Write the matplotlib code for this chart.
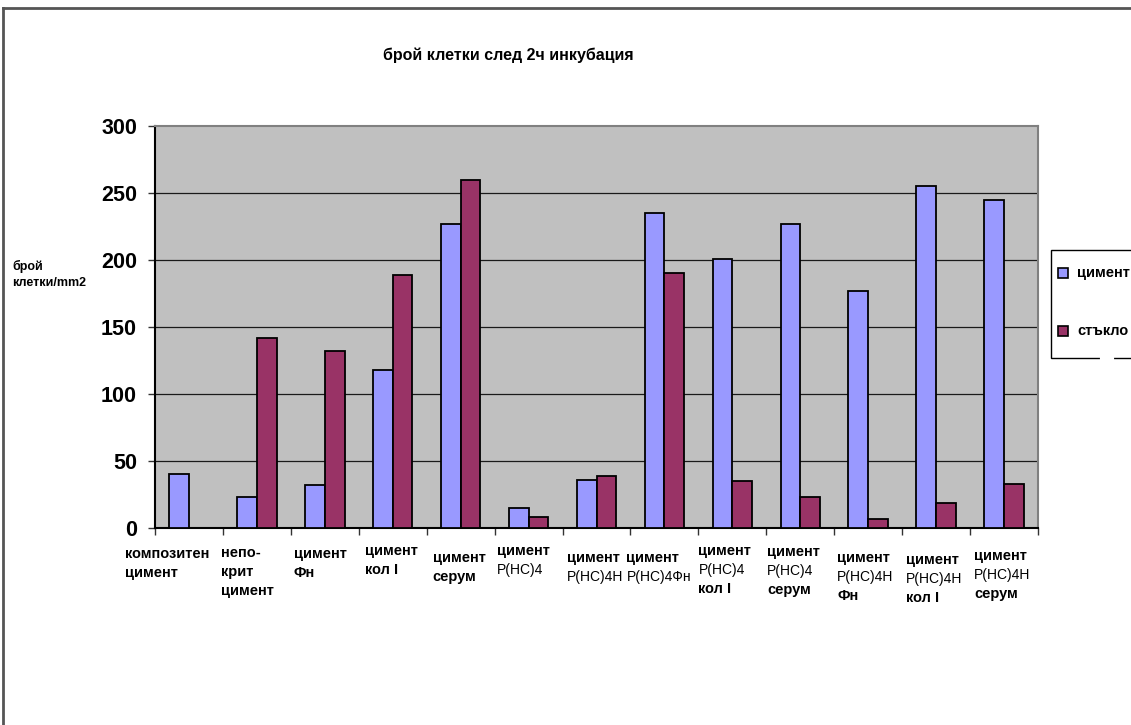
import matplotlib
matplotlib.use("Agg")
import matplotlib.pyplot as plt
import matplotlib.transforms as mtransforms
from matplotlib.patches import Rectangle
from matplotlib.lines import Line2D
import numpy as np

plt.rcParams['font.family'] = ['Liberation Sans', 'DejaVu Sans']

categories = [
    "композитен\nцимент",
    "непо-\nкрит\nцимент",
    "цимент\nФн",
    "цимент\nкол I",
    "цимент\nсерум",
    "цимент\nP(HC)4",
    "цимент\nP(HC)4H",
    "цимент\nP(HC)4Фн",
    "цимент\nP(HC)4\nкол I",
    "цимент\nP(HC)4\nсерум",
    "цимент\nP(HC)4H\nФн",
    "цимент\nP(HC)4H\nкол I",
    "цимент\nP(HC)4H\nсерум",
]
cement = [40, 23, 32, 118, 227, 15, 36, 235, 201, 227, 177, 255, 245]
glass = [0, 142, 132, 189, 260, 8, 39, 190, 35, 23, 7, 19, 33]
series_names = ["цимент", "стъкло"]
series_colors = ["#9999FF", "#993366"]
yticks = [0, 50, 100, 150, 200, 250, 300]

title = "брой клетки след 2ч инкубация"
ylabel = "брой\nклетки/mm2"

# label placement tweaks (pixels: horizontal from left tick, vertical below axis)
label_dx = [-30, -2, 3, 6, 6, 2, 4, -4, 0, 1, 3, 4, 4]
label_dy = [19, 18, 19, 16, 23, 16, 23, 23, 16, 17, 23, 25, 21]
line_pitch = 19

W, H = 1131, 725
fig = plt.figure(figsize=(W / 100, H / 100), dpi=100)
fig.patch.set_facecolor("white")

ax = fig.add_axes([155 / W, 1 - 528 / H, (1038 - 155) / W, (528 - 126) / H])
ax.set_facecolor("#C0C0C0")

x = np.arange(len(categories))
bw = 0.29
ax.bar(x - bw / 2, cement, width=bw, color=series_colors[0], edgecolor="black",
       linewidth=1.3, zorder=3)
ax.bar(x + bw / 2, glass, width=bw, color=series_colors[1], edgecolor="black",
       linewidth=1.3, zorder=3)

ax.set_xlim(-0.5, len(categories) - 0.5)
ax.set_ylim(0, 300)
ax.set_yticks(yticks)
ax.set_yticklabels([str(v) for v in yticks], fontsize=15.5, fontweight="bold")
for v in yticks[1:-1]:
    ax.axhline(v, color="#1a1a1a", linewidth=0.9, zorder=1)

ax.set_xticks(np.arange(len(categories) + 1) - 0.5)
ax.set_xticklabels([])
ax.tick_params(axis="x", direction="out", length=5, width=1, color="#333333")
ax.tick_params(axis="y", direction="out", length=5, width=1, color="#333333", pad=8)

for side in ("top", "right"):
    ax.spines[side].set_color("#808080")
    ax.spines[side].set_linewidth(1.5)
for side in ("left", "bottom"):
    ax.spines[side].set_color("black")
    ax.spines[side].set_linewidth(1.5)

# category labels below the axis, one line at a time
for i, lab in enumerate(categories):
    for j, line in enumerate(lab.split("\n")):
        tr = ax.get_xaxis_transform() + mtransforms.ScaledTranslation(
            label_dx[i] / 100, -(label_dy[i] + j * line_pitch) / 100,
            fig.dpi_scale_trans)
        if "P(" in line:
            ax.text(i - 0.5, 0, line, transform=tr, ha="left", va="top",
                    fontsize=10)
        else:
            ax.text(i - 0.5, 0, line, transform=tr, ha="left", va="top",
                    fontsize=10.5, fontweight="bold")

fig.text(508 / W, 1 - 55 / H, title, ha="center", va="center",
         fontsize=11.5, fontweight="bold")
fig.text(12 / W, 1 - 260 / H, ylabel, ha="left", va="top",
         fontsize=9, fontweight="bold", linespacing=1.45)


# legend box, drawn in figure pixels
def fx(px):
    return px / W


def fy(py):
    return 1 - py / H


fig.add_artist(Rectangle((fx(1051), fy(358)), fx(1140) - fx(1051), fy(250) - fy(358),
                         transform=fig.transFigure, facecolor="white",
                         edgecolor="black", linewidth=1.0, zorder=4))
for k, (name, col) in enumerate(zip(series_names, series_colors)):
    yc = 273 + 58 * k
    fig.add_artist(Rectangle((fx(1058), fy(yc + 5)), fx(1068) - fx(1058), fy(yc - 5) - fy(yc + 5),
                             transform=fig.transFigure, facecolor=col,
                             edgecolor="black", linewidth=1.2, zorder=5))
    fig.text(fx(1077), fy(yc), name, ha="left", va="center",
             fontsize=10.5, fontweight="bold", zorder=6)

# small break in the legend's lower border
fig.add_artist(Line2D([fx(1102), fx(1112)], [fy(358), fy(358)],
                      color="white", linewidth=3, zorder=10,
                      transform=fig.transFigure))

# outer frame on the top and left edges
fig.add_artist(Line2D([fx(3), fx(1130)], [fy(8), fy(8)],
                      color="#555555", linewidth=2, transform=fig.transFigure))
fig.add_artist(Line2D([fx(3), fx(3)], [fy(8), 0],
                      color="#555555", linewidth=2, transform=fig.transFigure))

fig.savefig("out.png", dpi=100)
